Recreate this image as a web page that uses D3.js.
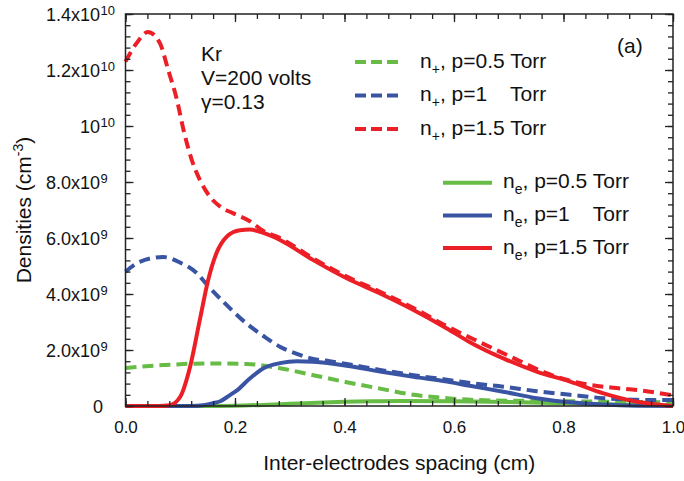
<!DOCTYPE html>
<html><head><meta charset="utf-8">
<script src="https://cdn.jsdelivr.net/npm/d3@7"></script>
<style>
body{margin:0;background:#fff}
text{font-family:Arial,"Liberation Sans",Helvetica,sans-serif;fill:#111}
</style>
</head><body>
<svg id="c" width="684" height="481"></svg>
<script>
// ---- data (densities in units of 1e9 cm^-3) ----
const xIon15 = [0, 0.02, 0.041, 0.063, 0.078, 0.094, 0.106, 0.121, 0.136, 0.154, 0.173, 0.197, 0.227, 0.252, 0.282, 0.343, 0.404, 0.465, 0.526, 0.587, 0.647, 0.708, 0.769, 0.83, 0.891, 0.934, 1.0];
const yIon15 = [12.3, 12.95, 13.36, 12.95, 12.0, 10.93, 9.86, 8.79, 8.07, 7.48, 7.12, 6.88, 6.6, 6.25, 6.0, 5.27, 4.62, 4.08, 3.5, 2.85, 2.28, 1.72, 1.17, 0.82, 0.65, 0.57, 0.38];

const xE15 = [0, 0.06, 0.081, 0.1, 0.118, 0.136, 0.151, 0.167, 0.185, 0.209, 0.227, 0.252, 0.282, 0.343, 0.404, 0.465, 0.526, 0.587, 0.629, 0.69, 0.751, 0.812, 0.873, 0.934, 1.0];
const yE15 = [0, 0, 0.03, 0.33, 1.4, 3.1, 4.5, 5.5, 6.05, 6.28, 6.3, 6.18, 5.93, 5.21, 4.56, 4.02, 3.43, 2.77, 2.28, 1.7, 1.23, 0.87, 0.45, 0.15, 0];

const xIon10 = [0, 0.026, 0.069, 0.1, 0.13, 0.148, 0.185, 0.224, 0.252, 0.282, 0.313, 0.343, 0.373, 0.404, 0.465, 0.526, 0.587, 0.629, 0.69, 0.751, 0.812, 0.873, 0.934, 1.0];
const yIon10 = [4.8, 5.15, 5.32, 5.12, 4.75, 4.35, 3.6, 2.9, 2.5, 2.12, 1.86, 1.68, 1.6, 1.5, 1.29, 1.1, 0.94, 0.82, 0.69, 0.53, 0.4, 0.28, 0.22, 0.21];

const xE10 = [0, 0.12, 0.142, 0.16, 0.173, 0.19, 0.203, 0.227, 0.252, 0.282, 0.313, 0.343, 0.404, 0.465, 0.526, 0.587, 0.629, 0.69, 0.751, 0.812, 0.873, 0.934, 1.0];
const yE10 = [0, 0, 0.03, 0.1, 0.17, 0.38, 0.55, 0.98, 1.35, 1.53, 1.6, 1.58, 1.44, 1.23, 1.04, 0.87, 0.72, 0.51, 0.28, 0.13, 0.05, 0.01, 0];

const xIon05 = [0, 0.069, 0.148, 0.221, 0.282, 0.343, 0.404, 0.465, 0.526, 0.587, 0.647, 0.75, 0.85, 1.0];
const yIon05 = [1.36, 1.46, 1.52, 1.5, 1.35, 1.1, 0.85, 0.62, 0.4, 0.28, 0.21, 0.18, 0.16, 0.13];

const xE05 = [0, 0.15, 0.2, 0.25, 0.3, 0.35, 0.4, 0.45, 0.5, 0.6, 0.7, 0.8, 0.9, 1.0];
const yE05 = [0, 0, 0.01, 0.04, 0.08, 0.12, 0.15, 0.17, 0.18, 0.17, 0.14, 0.1, 0.05, 0.02];

const xTicks = [0, 0.2, 0.4, 0.6, 0.8, 1.0];
const yTicks = [0, 2, 4, 6, 8, 10, 12, 14];
const yTickBase = ["0", "2.0x10", "4.0x10", "6.0x10", "8.0x10", "10", "1.2x10", "1.4x10"];
const yTickSup = ["", "9", "9", "9", "9", "10", "10", "10"];

const seriesNames = ["p=0.5 Torr", "p=1    Torr", "p=1.5 Torr"];
const colors = ["#66bc45", "#3a54a4", "#ec1f26"];

// ---- drawing ----
const svg = d3.select("#c");
const x = d3.scaleLinear().domain([0, 1]).range([125.5, 673]);
const y = d3.scaleLinear().domain([0, 14]).range([406, 14]);

const zip = (a, b) => a.map((v, i) => [v, b[i]]);
const line = d3.line().x(d => x(d[0])).y(d => y(d[1])).curve(d3.curveMonotoneX);

const ions = [zip(xIon05, yIon05), zip(xIon10, yIon10), zip(xIon15, yIon15)];
const elecs = [zip(xE05, yE05), zip(xE10, yE10), zip(xE15, yE15)];

const plot = svg.append("g");
ions.forEach((d, i) => plot.append("path").attr("d", line(d)).attr("fill", "none")
  .attr("stroke", colors[i]).attr("stroke-width", 4).attr("stroke-dasharray", "11,6"));
elecs.forEach((d, i) => plot.append("path").attr("d", line(d)).attr("fill", "none")
  .attr("stroke", colors[i]).attr("stroke-width", 4));

// axes (ticks inward on all sides)
const axisColor = "#222";
function styleAxis(g) {
  g.select(".domain").remove();
  g.selectAll(".tick line").attr("stroke", axisColor).attr("stroke-width", 1.3);
}
const xMinor = d3.range(0, 1.0001, 0.04);
const yMinor = d3.range(0, 14.0001, 0.4);

svg.append("g").attr("transform", "translate(0,406)")
  .call(d3.axisBottom(x).tickValues(xMinor).tickSize(-5).tickFormat("")).call(styleAxis);
svg.append("g").attr("transform", "translate(0,14)")
  .call(d3.axisTop(x).tickValues(xMinor).tickSize(-5).tickFormat("")).call(styleAxis);
svg.append("g").attr("transform", "translate(0,14)")
  .call(d3.axisTop(x).tickValues(xTicks).tickSize(-8).tickFormat("")).call(styleAxis);
const xa = svg.append("g").attr("transform", "translate(0,406)")
  .call(d3.axisBottom(x).tickValues(xTicks).tickSize(-8).tickPadding(15).tickFormat(d3.format(".1f")))
  .call(styleAxis);
xa.selectAll("text").attr("font-size", 17).attr("fill", "#111")
  .style("font-family", "Arial, 'Liberation Sans', sans-serif");

svg.append("g").attr("transform", "translate(125.5,0)")
  .call(d3.axisLeft(y).tickValues(yMinor).tickSize(-5).tickFormat("")).call(styleAxis);
svg.append("g").attr("transform", "translate(125.5,0)")
  .call(d3.axisLeft(y).tickValues(yTicks).tickSize(-8).tickFormat("")).call(styleAxis);
svg.append("g").attr("transform", "translate(673,0)")
  .call(d3.axisRight(y).tickValues(yMinor).tickSize(-5).tickFormat("")).call(styleAxis);
svg.append("g").attr("transform", "translate(673,0)")
  .call(d3.axisRight(y).tickValues(yTicks).tickSize(-8).tickFormat("")).call(styleAxis);

svg.append("rect").attr("x", x(0)).attr("y", y(14)).attr("width", x(1) - x(0)).attr("height", y(0) - y(14))
  .attr("fill", "none").attr("stroke", axisColor).attr("stroke-width", 1.5);

// y tick labels with superscripts
yTicks.forEach((v, i) => {
  const base = v === 0 ? 103 : 100;
  svg.append("text").attr("x", base).attr("y", y(v) + 6.5).attr("text-anchor", "end")
    .attr("font-size", 18).text(yTickBase[i]);
  if (yTickSup[i]) svg.append("text").attr("x", base + 0.5).attr("y", y(v) + 0.5)
    .attr("font-size", 13).text(yTickSup[i]);
});

// axis titles
svg.append("text").attr("x", (x(0) + x(1)) / 2).attr("y", 470).attr("text-anchor", "middle")
  .attr("font-size", 21).text("Inter-electrodes spacing (cm)");
const yl = svg.append("text").attr("transform", `translate(31,${(y(0) + y(14)) / 2}) rotate(-90)`)
  .attr("text-anchor", "middle").attr("font-size", 21);
yl.append("tspan").text("Densities (cm");
yl.append("tspan").attr("font-size", 14).attr("dy", -8).text("-3");
yl.append("tspan").attr("dy", 8).text(")");

// annotations
const ann = ["Kr", "V=200 volts", "γ=0.13"];
ann.forEach((t, i) => svg.append("text").attr("x", 201).attr("y", 60.5 + i * 24).attr("font-size", 21).text(t));
svg.append("text").attr("x", 617).attr("y", 53).attr("font-size", 21).text("(a)");

// legends
function legendEntry(x0, x1, ly, tx, sub, name, color, dashed) {
  svg.append("line").attr("x1", x0).attr("x2", x1).attr("y1", ly).attr("y2", ly)
    .attr("stroke", color).attr("stroke-width", 4)
    .attr("stroke-dasharray", dashed ? "11,5" : null);
  const t = svg.append("text").attr("x", tx).attr("y", ly + 5.5).attr("font-size", 21)
    .attr("xml:space", "preserve").style("white-space", "pre");
  t.append("tspan").text("n");
  t.append("tspan").attr("font-size", 14).attr("dy", 6).text(sub);
  t.append("tspan").attr("dy", -6).text(", " + name);
}
seriesNames.forEach((n, i) => legendEntry(355, 398, 62 + i * 33.5, 420, "+", n, colors[i], true));
seriesNames.forEach((n, i) => legendEntry(443, 492, 182.7 + i * 32.7, 503, "e", n, colors[i], false));
</script>
</body></html>
